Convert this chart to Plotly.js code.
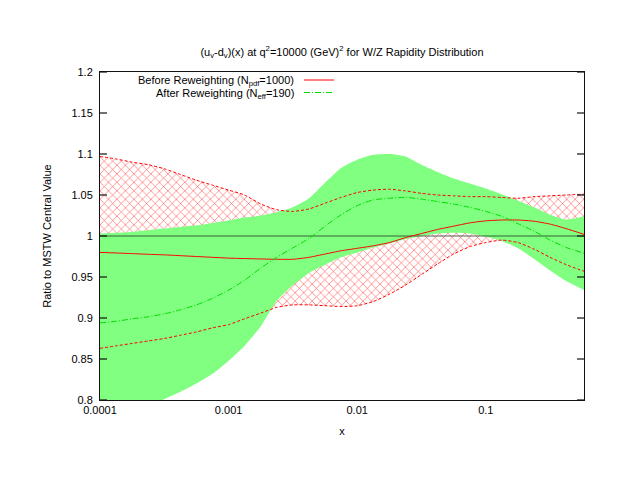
<!DOCTYPE html>
<html>
<head>
<meta charset="utf-8">
<script src="https://cdn.plot.ly/plotly-3.0.1.min.js"></script>
<style>html,body{margin:0;padding:0;background:#fff;}#chart{width:620px;height:479px;}</style>
</head>
<body>
<div id="chart"></div>
<script>
// x grid (momentum fraction)
const xVals = [1.0e-4, 1.33e-4, 1.78e-4, 2.37e-4, 3.16e-4, 4.22e-4, 5.62e-4, 7.50e-4,
  1.0e-3, 1.33e-3, 1.78e-3, 2.37e-3, 3.16e-3, 4.22e-3, 5.62e-3, 7.50e-3,
  0.01, 0.0133, 0.0178, 0.0237, 0.0316, 0.0422, 0.0562, 0.075,
  0.1, 0.133, 0.178, 0.237, 0.316, 0.422, 0.58];

// Before reweighting (N_pdf = 1000): central value and band edges
const beforeCentral = [0.980, 0.9793, 0.9785, 0.9777, 0.977, 0.976, 0.975, 0.974,
  0.973, 0.9725, 0.972, 0.9716, 0.9716, 0.974, 0.978, 0.982,
  0.985, 0.988, 0.992, 0.998, 1.003, 1.008, 1.012, 1.016,
  1.0185, 1.0195, 1.0195, 1.018, 1.0145, 1.009, 1.002];
const beforeUpper = [1.097, 1.094, 1.090, 1.087, 1.082, 1.075, 1.068, 1.062,
  1.056, 1.050, 1.039, 1.032, 1.030, 1.033, 1.040, 1.047,
  1.053, 1.056, 1.057, 1.055, 1.052, 1.050, 1.049, 1.048,
  1.048, 1.047, 1.046, 1.048, 1.049, 1.050, 1.051];
const beforeLower = [0.863, 0.866, 0.869, 0.872, 0.875, 0.879, 0.883, 0.888,
  0.892, 0.899, 0.906, 0.913, 0.916, 0.916, 0.915, 0.914,
  0.915, 0.920, 0.929, 0.940, 0.953, 0.966, 0.978, 0.987,
  0.992, 0.995, 0.992, 0.984, 0.974, 0.965, 0.957];

// After reweighting (N_eff = 190): central value and band edges
const afterCentral = [0.894, 0.896, 0.899, 0.9015, 0.905, 0.910, 0.916, 0.924,
  0.934, 0.946, 0.961, 0.974, 0.9855, 0.997, 1.012, 1.026,
  1.037, 1.044, 1.046, 1.047, 1.045, 1.042, 1.039, 1.035,
  1.030, 1.024, 1.015, 1.006, 0.995, 0.986, 0.979];
const afterUpper = [1.003, 1.004, 1.005, 1.007, 1.009, 1.011, 1.013, 1.016,
  1.019, 1.0225, 1.025, 1.029, 1.035, 1.046, 1.065, 1.083,
  1.093, 1.099, 1.100, 1.097, 1.087, 1.078, 1.070, 1.064,
  1.058, 1.051, 1.043, 1.035, 1.026, 1.020, 1.024];
const afterLower = [0.772, 0.778, 0.785, 0.792, 0.801, 0.810, 0.820, 0.832,
  0.848, 0.866, 0.890, 0.921, 0.940, 0.955, 0.965, 0.974,
  0.980, 0.986, 0.991, 0.996, 1.000, 1.003, 1.004, 1.003,
  0.999, 0.994, 0.985, 0.972, 0.958, 0.945, 0.934];

// reference (MSTW central) ratio
const refX = [1.0e-4, 0.58];
const refY = [1, 1];

const xTickVals = [0.0001, 0.001, 0.01, 0.1];
const xTickText = ['0.0001', '0.001', '0.01', '0.1'];
const yTickVals = [0.8, 0.85, 0.9, 0.95, 1, 1.05, 1.1, 1.15, 1.2];
const yTickText = ['0.8', '0.85', '0.9', '0.95', '1', '1.05', '1.1', '1.15', '1.2'];

// minor log ticks (2..9 in each decade)
const xMinorVals = [];
for (const d of xTickVals) { for (let m = 2; m <= 9; m++) { const v = m * d; if (v <= 0.58) xMinorVals.push(v); } }

const RED = '#ff0000';
const GREEN_FILL = 'rgb(128,255,128)';
const GREEN_LINE = 'rgb(0,220,0)';
const AXIS = '#111';
const FONT = 'Liberation Sans, Arial, sans-serif';
const XRANGE = [-4, -0.2366];

const sp = {shape: 'spline', smoothing: 0.6};

const traces = [
  // red hatched band (before)
  {x: xVals, y: beforeLower, mode: 'lines', line: Object.assign({width: 0, color: RED}, sp), hoverinfo: 'skip'},
  {x: xVals, y: beforeUpper, mode: 'lines', fill: 'tonexty', fillcolor: 'rgba(0,0,0,0)',
   fillpattern: {shape: 'x', fgcolor: 'rgba(255,40,40,0.85)', bgcolor: 'rgba(255,255,255,0)', size: 6, solidity: 0.18},
   line: Object.assign({width: 0, color: RED}, sp), hoverinfo: 'skip'},
  // green solid band (after)
  {x: xVals, y: afterLower, mode: 'lines', line: Object.assign({width: 0, color: GREEN_FILL}, sp), hoverinfo: 'skip'},
  {x: xVals, y: afterUpper, mode: 'lines', fill: 'tonexty', fillcolor: GREEN_FILL,
   line: Object.assign({width: 0, color: GREEN_FILL}, sp), hoverinfo: 'skip'},
  // reference line
  {x: refX, y: refY, mode: 'lines', line: {width: 1.2, color: 'rgba(30,50,30,0.75)'}},
  // before band edges (dashed) and central (solid)
  {x: xVals, y: beforeUpper, mode: 'lines', line: Object.assign({width: 1, color: RED, dash: '3px,2px'}, sp)},
  {x: xVals, y: beforeLower, mode: 'lines', line: Object.assign({width: 1, color: RED, dash: '3px,2px'}, sp)},
  {x: xVals, y: beforeCentral, mode: 'lines', line: Object.assign({width: 1, color: RED}, sp)},
  // after central (dash-dot)
  {x: xVals, y: afterCentral, mode: 'lines', line: Object.assign({width: 1, color: GREEN_LINE, dash: '6px,2px,1px,2px'}, sp)}
];

const PL = 100, PR = 584, PT = 72, PB = 400;
const W = PR - PL, H = PB - PT;
const px2x = p => (p - PL) / W;
const py2y = p => (PB - p) / H;

// tick marks (inside, mirrored on all four sides) as shapes; shapes on a log axis take log10 positions
const tickShapes = [];
const tick = {color: AXIS, width: 1.2};
const addXTick = (v, len) => {
  const lv = Math.log10(v);
  tickShapes.push({type: 'line', xref: 'x', yref: 'paper', x0: lv, x1: lv, y0: 0, y1: len / H, line: tick, layer: 'above'});
  tickShapes.push({type: 'line', xref: 'x', yref: 'paper', x0: lv, x1: lv, y0: 1, y1: 1 - len / H, line: tick, layer: 'above'});
};
xTickVals.forEach(v => addXTick(v, 7));
xMinorVals.forEach(v => addXTick(v, 4));
yTickVals.forEach(v => {
  tickShapes.push({type: 'line', xref: 'paper', yref: 'y', x0: 0, x1: 7 / W, y0: v, y1: v, line: tick, layer: 'above'});
  tickShapes.push({type: 'line', xref: 'paper', yref: 'y', x0: 1, x1: 1 - 7 / W, y0: v, y1: v, line: tick, layer: 'above'});
});

const layout = {
  width: 620, height: 479,
  margin: {l: PL, r: 620 - PR, t: PT, b: 479 - PB, pad: 0},
  paper_bgcolor: '#fff', plot_bgcolor: '#fff',
  showlegend: false,
  font: {family: FONT, size: 11, color: '#000'},
  title: {
    text: '(u<sub>v</sub>-d<sub>v</sub>)(x) at q<sup>2</sup>=10000 (GeV)<sup>2</sup> for W/Z Rapidity Distribution',
    font: {family: FONT, size: 11, color: '#000'},
    x: 342 / 620, xanchor: 'center', xref: 'container',
    y: 1 - 52 / 479, yanchor: 'middle', yref: 'container'
  },
  xaxis: {
    type: 'log', range: XRANGE,
    tickmode: 'array', tickvals: xTickVals, ticktext: xTickText,
    ticks: '', showline: true, linecolor: AXIS, linewidth: 1, mirror: true,
    showgrid: false, zeroline: false,
    tickfont: {family: FONT, size: 11, color: '#000'},
    title: {text: 'x', font: {family: FONT, size: 11, color: '#000'}, standoff: 12},
    automargin: false
  },
  yaxis: {
    range: [0.8, 1.2],
    tickmode: 'array', tickvals: yTickVals, ticktext: yTickText,
    ticks: '', showline: true, linecolor: AXIS, linewidth: 1, mirror: true,
    showgrid: false, zeroline: false,
    tickfont: {family: FONT, size: 11, color: '#000'},
    ticklabelstandoff: 4,
    title: {text: 'Ratio to MSTW Central Value', font: {family: FONT, size: 11, color: '#000'}, standoff: 17},
    automargin: false
  },
  annotations: [
    {xref: 'paper', yref: 'paper', x: px2x(296), y: py2y(81.5), xanchor: 'right', yanchor: 'middle',
     text: 'Before Reweighting (N<sub>pdf</sub>=1000)', showarrow: false, font: {family: FONT, size: 11, color: '#000'}},
    {xref: 'paper', yref: 'paper', x: px2x(296), y: py2y(94), xanchor: 'right', yanchor: 'middle',
     text: 'After Reweighting (N<sub>eff</sub>=190)', showarrow: false, font: {family: FONT, size: 11, color: '#000'}}
  ],
  shapes: tickShapes.concat([
    {type: 'line', xref: 'paper', yref: 'paper', x0: px2x(304), x1: px2x(334), y0: py2y(80), y1: py2y(80),
     line: {color: RED, width: 1}},
    {type: 'line', xref: 'paper', yref: 'paper', x0: px2x(304), x1: px2x(334), y0: py2y(92.5), y1: py2y(92.5),
     line: {color: GREEN_LINE, width: 1, dash: '6px,2px,1px,2px'}}
  ])
};

Plotly.newPlot('chart', traces, layout, {displayModeBar: false, staticPlot: true});
</script>
</body>
</html>
